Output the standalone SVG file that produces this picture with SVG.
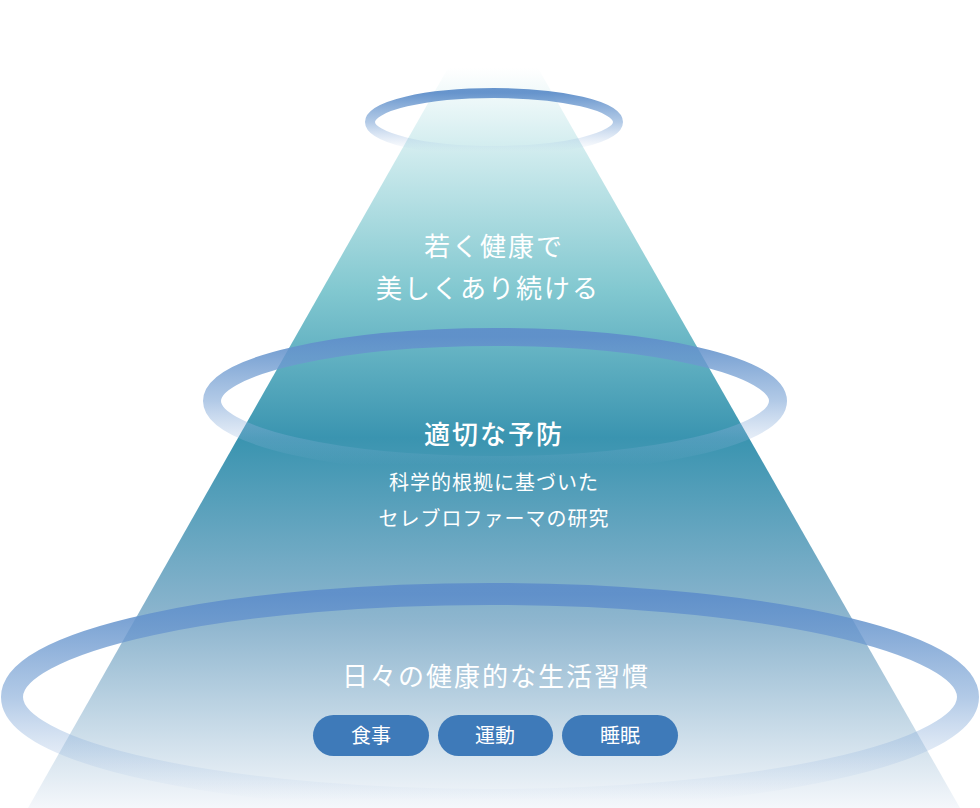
<svg xmlns="http://www.w3.org/2000/svg" width="980" height="808" viewBox="0 0 980 808">
<defs>
<linearGradient id="pyr" x1="0" y1="68" x2="0" y2="808" gradientUnits="userSpaceOnUse">
<stop offset="0" stop-color="#ffffff"/>
<stop offset="0.1" stop-color="#d5eef0"/>
<stop offset="0.3" stop-color="#82c8d0"/>
<stop offset="0.5" stop-color="#3a94b0"/>
<stop offset="0.75" stop-color="#8fb6cf"/>
<stop offset="1" stop-color="#f4f7fb"/>
</linearGradient>
<linearGradient id="ring" x1="0" y1="0" x2="0" y2="1">
<stop offset="0" stop-color="#5f8fca" stop-opacity="0.95"/>
<stop offset="0.5" stop-color="#7ea6d6" stop-opacity="0.6"/>
<stop offset="1" stop-color="#a9c3e6" stop-opacity="0"/>
</linearGradient>
<style>
.t{font-family:"Noto Sans CJK JP","Noto Sans",sans-serif;fill:#fff;text-anchor:middle}
.pill{fill:#3e7ab9}
</style>
</defs>
<polygon points="448,68 538,68 960,808 28,808" fill="url(#pyr)"/>
<g id="ring-top"><ellipse cx="494" cy="122" rx="124" ry="29" fill="none" stroke="url(#ring)" stroke-width="10"/></g>
<g id="ring-mid"><ellipse cx="495" cy="401" rx="283" ry="64" fill="none" stroke="url(#ring)" stroke-width="18"/></g>
<g id="ring-bot"><ellipse cx="490" cy="697" rx="478" ry="103" fill="none" stroke="url(#ring)" stroke-width="22"/></g>
<g id="top-text">
<text class="t" x="494" y="256" font-size="26" letter-spacing="2">若く健康で</text>
<text class="t" x="488" y="298" font-size="26" letter-spacing="2">美しくあり続ける</text>
</g>
<g id="mid-text">
<text class="t" x="494" y="444" font-size="26" font-weight="500" letter-spacing="2">適切な予防</text>
<text class="t" x="494" y="490" font-size="20" letter-spacing="1">科学的根拠に基づいた</text>
<text class="t" x="494" y="526" font-size="20" letter-spacing="1">セレブロファーマの研究</text>
</g>
<g id="bot-text">
<text class="t" x="496" y="686" font-size="26" letter-spacing="2">日々の健康的な生活習慣</text>
</g>
<g id="pill1"><rect class="pill" x="313" y="715" width="116" height="41" rx="20.5"/><text class="t" x="371" y="743" font-size="20">食事</text></g>
<g id="pill2"><rect class="pill" x="438" y="715" width="115" height="41" rx="20.5"/><text class="t" x="495" y="743" font-size="20">運動</text></g>
<g id="pill3"><rect class="pill" x="562" y="715" width="116" height="41" rx="20.5"/><text class="t" x="620" y="743" font-size="20">睡眠</text></g>
<g id="connectors"></g>
</svg>
